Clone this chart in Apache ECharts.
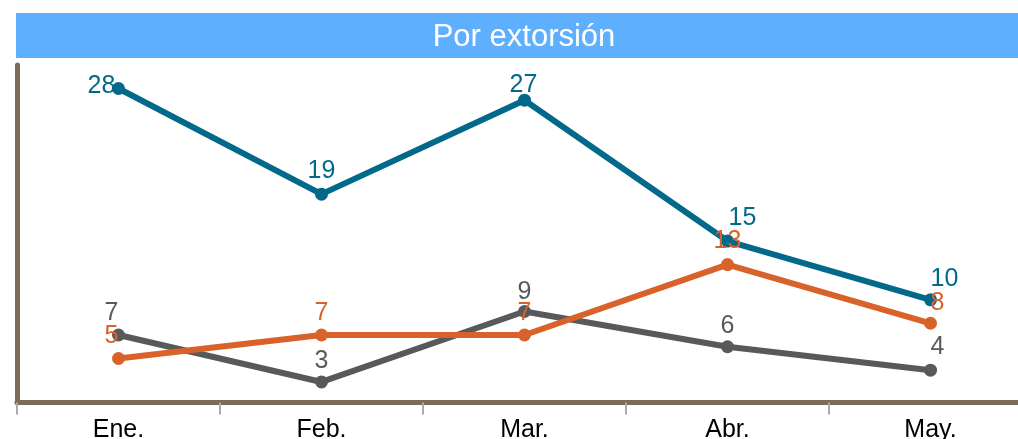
<!DOCTYPE html>
<html>
<head>
<meta charset="utf-8">
<script src="https://cdn.jsdelivr.net/npm/echarts@6/dist/echarts.min.js"></script>
<style>
html,body{margin:0;padding:0;background:#fff;}
#c{width:1018px;height:439px;}
</style>
</head>
<body>
<div id="c"></div>
<script>
const categories = ['Ene.', 'Feb.', 'Mar.', 'Abr.', 'May.'];
const tealValues = [28, 19, 27, 15, 10];
const orangeValues = [5, 7, 7, 13, 8];
const grayValues = [7, 3, 9, 6, 4];
const titleText = 'Por extorsión';

// label placement (dx, dy relative to point centre), kept apart from values
const tealLabelShift = [[-17, -2], [0, -23], [-1, -15], [15, -23], [14, -21]];
const orangeLabelShift = [[-7, -22], [0, -22], [0, -22], [0, -23], [7, -20]];
const grayLabelShift = [[-7, -22], [0, -21], [0, -19], [0, -21], [7, -23]];

const FONT = '"Liberation Sans", Arial, sans-serif';

function buildData(values, shifts) {
  return values.map((v, i) => ({
    value: v,
    label: { offset: shifts[i] }
  }));
}

function mkSeries(name, values, shifts, color) {
  return {
    name: name,
    type: 'line',
    data: buildData(values, shifts),
    symbol: 'circle',
    symbolSize: 13,
    lineStyle: { color: color, width: 6 },
    itemStyle: { color: color },
    label: {
      show: true,
      position: 'inside',
      color: color,
      fontSize: 25,
      fontFamily: FONT
    },
    emphasis: { disabled: true },
    animation: false
  };
}

const chart = echarts.init(document.getElementById('c'));
chart.setOption({
  animation: false,
  grid: { left: 17, width: 1015, top: 65, bottom: 36.5, containLabel: false, outerBoundsMode: 'none' },
  graphic: [
    {
      type: 'rect',
      shape: { x: 16, y: 13, width: 1016, height: 45 },
      style: { fill: '#5eaffe' },
      silent: true
    },
    {
      type: 'text',
      x: 524, y: 37,
      style: {
        text: titleText,
        fill: '#ffffff',
        font: '31px ' + FONT,
        textAlign: 'center',
        textVerticalAlign: 'middle'
      },
      silent: true
    }
  ],
  xAxis: {
    type: 'category',
    data: categories,
    boundaryGap: true,
    axisLine: { show: true, lineStyle: { color: '#7b6c5a', width: 5 } },
    axisTick: { show: true, length: 12, lineStyle: { color: '#aaaaaa', width: 2 } },
    axisLabel: { color: '#000000', fontSize: 25, fontFamily: FONT, margin: 15 },
    splitLine: { show: false }
  },
  yAxis: {
    type: 'value',
    min: 1.25,
    max: 30,
    axisLine: { show: true, lineStyle: { color: '#7b6c5a', width: 5 } },
    axisTick: { show: false },
    axisLabel: { show: false },
    splitLine: { show: false }
  },
  series: [
    mkSeries('teal', tealValues, tealLabelShift, '#03698a'),
    mkSeries('gray', grayValues, grayLabelShift, '#58595b'),
    mkSeries('orange', orangeValues, orangeLabelShift, '#d9622b')
  ]
});
</script>
</body>
</html>
